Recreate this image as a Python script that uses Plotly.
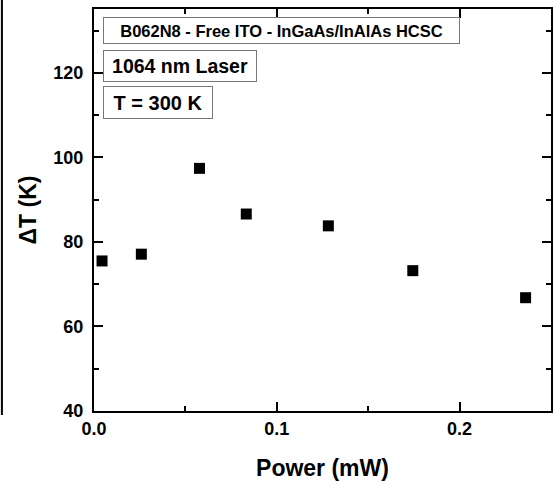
import plotly.graph_objects as go

power_mw = [0.0044, 0.0259, 0.0577, 0.0833, 0.1282, 0.1744, 0.2361]
delta_t_k = [75.5, 77.1, 97.4, 86.6, 83.8, 73.2, 66.8]

x_tickvals = [0.0, 0.1, 0.2]
x_ticktext = ["0.0", "0.1", "0.2"]
y_tickvals = [40, 60, 80, 100, 120]
y_ticktext = ["40", "60", "80", "100", "120"]

box_texts = ["B062N8 - Free ITO - InGaAs/InAlAs HCSC", "1064 nm Laser", "T = 300 K"]

FONT = "Liberation Sans, Arial, sans-serif"

fig = go.Figure()
fig.add_trace(go.Scatter(
    x=power_mw, y=delta_t_k, mode="markers",
    marker=dict(symbol="square", size=11, color="black", line=dict(width=0)),
    showlegend=False,
))

L, R, T, B = 94, 4, 9, 71
W, H = 557, 482
pw, ph = W - L - R, H - T - B

axis_common = dict(
    showline=True, linecolor="black", linewidth=2, mirror="ticks",
    ticks="inside", ticklen=9, tickwidth=2, tickcolor="black",
    showgrid=False, zeroline=False,
    tickfont=dict(family=FONT, size=18, color="black", weight="bold"),
)

fig.update_xaxes(
    range=[0, 0.25], tickvals=x_tickvals, ticktext=x_ticktext,
    minor=dict(ticks="inside", ticklen=5, tickwidth=2, tickcolor="black", dtick=0.05, tick0=0),
    title=dict(text="<b>Power (mW)</b>", font=dict(family=FONT, size=23, color="black"), standoff=22),
    ticklabelstandoff=0,
    **axis_common,
)
fig.update_yaxes(
    range=[40, 135.1], tickvals=y_tickvals, ticktext=y_ticktext,
    minor=dict(ticks="inside", ticklen=5, tickwidth=2, tickcolor="black", dtick=10, tick0=40),
    title=dict(text="<b>ΔT (K)</b>", font=dict(family=FONT, size=23, color="black"), standoff=10),
    ticklabelstandoff=5,
    **axis_common,
)

def px_to_paper_x(px):
    return (px - L) / pw

def px_to_paper_y(py):
    return (H - B - py) / ph

boxes = [
    (box_texts[0], 103, 17, 357, 27, 16.5),
    (box_texts[1], 103, 50, 154, 32, 19.5),
    (box_texts[2], 103, 86, 110, 33, 20),
]
for txt, bx, by, bw, bh, fs in boxes:
    fig.add_annotation(
        x=px_to_paper_x(bx), y=px_to_paper_y(by), xref="paper", yref="paper",
        xanchor="left", yanchor="top", showarrow=False,
        text="<b>" + txt + "</b>", font=dict(family=FONT, size=fs, color="black"),
        width=bw - 2, height=bh - 2, align="center", valign="middle",
        bordercolor="#777777", borderwidth=1, borderpad=0, bgcolor="white",
    )

# edge of a neighbouring panel visible at far left of the reference
fig.add_shape(type="line", xref="paper", yref="paper",
              x0=px_to_paper_x(1.5), x1=px_to_paper_x(1.5),
              y0=px_to_paper_y(0), y1=px_to_paper_y(415),
              line=dict(color="black", width=2))

fig.update_layout(
    width=W, height=H,
    margin=dict(l=L, r=R, t=T, b=B),
    paper_bgcolor="white", plot_bgcolor="white",
    font=dict(family=FONT, color="black"),
)

fig.write_html("out.html")
